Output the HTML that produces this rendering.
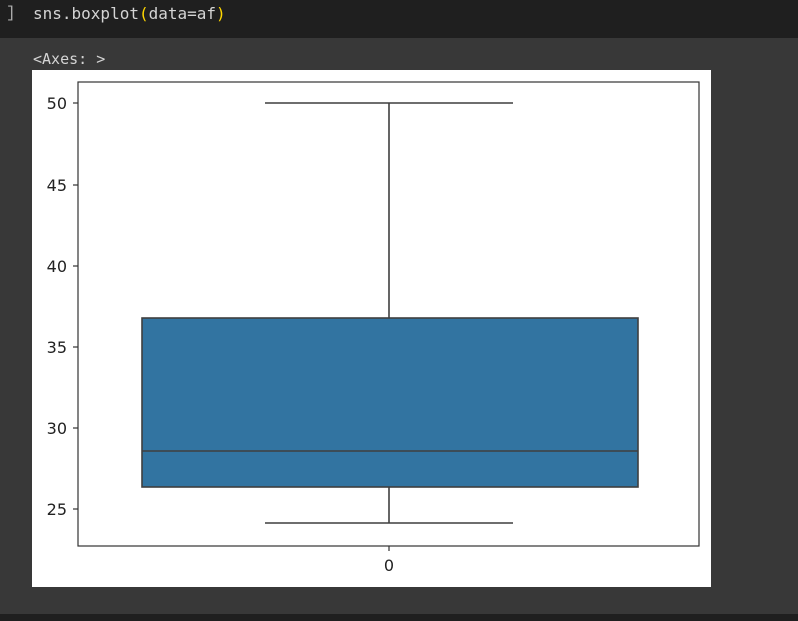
<!DOCTYPE html>
<html><head><style>
body{margin:0;width:798px;height:621px;background:#383838;overflow:hidden;position:relative;font-family:"Liberation Mono",monospace}
.top{position:absolute;left:0;top:0;width:798px;height:38px;background:#1f1f1f}
.bot{position:absolute;left:0;top:614px;width:798px;height:7px;background:#1f1f1f}
</style></head><body>
<div class="top"></div>
<div style="position:absolute;left:6px;top:4px;color:#aaa;font-size:16px">]</div>
<div style="position:absolute;left:33px;top:4px;color:#d4d4d4;font-size:16px;font-family:'DejaVu Sans Mono',monospace">sns.boxplot<span style="color:#ffd700">(</span>data=af<span style="color:#ffd700">)</span></div>
<div style="position:absolute;left:33px;top:50px;color:#d4d4d4;font-size:15px;font-family:'DejaVu Sans Mono',monospace">&lt;Axes: &gt;</div>
<svg style="position:absolute;left:32px;top:70px" width="679" height="517" viewBox="32 70 679 517">
<rect x="32" y="70" width="679" height="517" fill="#fff"/>
<g font-family="DejaVu Sans, Liberation Sans, sans-serif" font-size="16" fill="#222" text-anchor="end">
<text x="67" y="109">50</text><text x="67" y="191">45</text><text x="67" y="272">40</text>
<text x="67" y="353">35</text><text x="67" y="434">30</text><text x="67" y="515">25</text>
<text x="389" y="571" text-anchor="middle">0</text>
</g>
<g stroke="#333" stroke-width="1.2">
<line x1="73" y1="103" x2="78" y2="103"/><line x1="73" y1="185" x2="78" y2="185"/>
<line x1="73" y1="266" x2="78" y2="266"/><line x1="73" y1="347" x2="78" y2="347"/>
<line x1="73" y1="428" x2="78" y2="428"/><line x1="73" y1="509" x2="78" y2="509"/>
<line x1="389" y1="546" x2="389" y2="551"/>
</g>
<g stroke="#3f3f3f" stroke-width="1.6">
<line x1="389" y1="103" x2="389" y2="318"/><line x1="265" y1="103" x2="513" y2="103"/>
<line x1="389" y1="487" x2="389" y2="523"/><line x1="265" y1="523" x2="513" y2="523"/>
<rect x="142" y="318" width="496" height="169" fill="#3274a1"/>
<line x1="142" y1="451" x2="638" y2="451"/>
</g>
<rect x="78" y="82" width="621" height="464" fill="none" stroke="#333" stroke-width="1.2"/>
</svg>
<div class="bot"></div>
</body></html>
